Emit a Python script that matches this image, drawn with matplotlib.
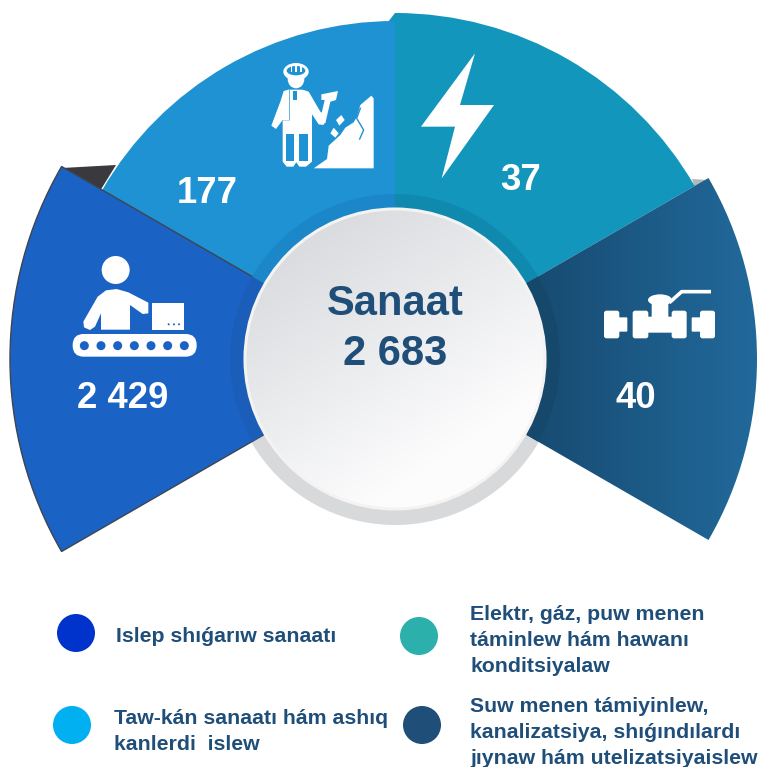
import numpy as np
import matplotlib
matplotlib.use("Agg")
import matplotlib.pyplot as plt
from matplotlib.patches import Wedge, Circle, Polygon, Ellipse, FancyBboxPatch, Rectangle
from matplotlib.colors import LinearSegmentedColormap

plt.rcParams['font.family'] = ['Liberation Sans', 'DejaVu Sans']

# ---- data
total_title = "Sanaat"
total_value = "2 683"
value_labels = ["2 429", "177", "37", "40"]
legend_labels = [
    "Islep shıǵarıw sanaatı",
    "Elektr, gáz, puw menen\ntáminlew hám hawanı\nkonditsiyalaw",
    "Taw-kán sanaatı hám ashıq\nkanlerdi  islew",
    "Suw menen támiyinlew,\nkanalizatsiya, shıǵındılardı\njıynaw hám utelizatsiyaislew",
]

W, H = 758, 767
fig = plt.figure(figsize=(W / 100, H / 100), dpi=100, facecolor="white")
ax = fig.add_axes([0, 0, 1, 1])
CX, CY = 395, 359
NAVY = "#1f4e79"
WHITE = "white"
BLUE_LEFT = "#1a63c4"
BLUE_TOP = "#1e92d2"


def sector(a1, a2, r, color, z, **kw):
    """Sector between screen angles a1..a2 (counter-clockwise, degrees)."""
    p = Wedge((CX, CY), r, -a2, -a1, facecolor=color, edgecolor=kw.pop("edgecolor", "none"),
              zorder=z, **kw)
    ax.add_patch(p)
    return p


def fill_gradient(patch, c1, c2, x0, y0, x1, y1, z):
    yy, xx = np.mgrid[0:H, 0:W]
    dx, dy = x1 - x0, y1 - y0
    t = np.clip(((xx - x0) * dx + (yy - y0) * dy) / (dx * dx + dy * dy), 0, 1)
    cmap = LinearSegmentedColormap.from_list("g", [c1, c2])
    im = ax.imshow(t, cmap=cmap, vmin=0, vmax=1, extent=(0, W, H, 0), zorder=z,
                   interpolation="bilinear", aspect="auto")
    im.set_clip_path(patch)


# ---- background shadow
ax.add_patch(Circle((CX, CY), 166, facecolor="#d7d9db", edgecolor="none", zorder=1))

# ---- folded corners
ax.add_patch(Polygon([(62, 168), (116, 165), (100, 191)], facecolor="#3a3a3e", edgecolor="none", zorder=1.5))
ax.add_patch(Polygon([(692, 179), (708, 180), (695, 189)], facecolor="#b5b8b8", edgecolor="none", zorder=1.5))
ax.add_patch(Polygon([(395, 13), (388, 22), (395, 22)], facecolor="#1296bb", edgecolor="none", zorder=1.5))

# ---- main sectors
sector(90, 150, 338, BLUE_TOP, 2)
sector(30, 90, 346, "#1296bb", 2)
right = sector(-30, 30, 362, "none", 2)
fill_gradient(right, "#174a70", "#21699b", 525, 0, 755, 0, 2)
sector(150, 210, 385, BLUE_LEFT, 3, edgecolor="#3e4450", linewidth=1.0)

# ---- inner darker ring
sector(150, 210, 165, "#1a5eba", 3.5)
sector(90, 150, 165, "#1b87c8", 3.5)
sector(30, 90, 165, "#1089ae", 3.5)
sector(-30, 30, 165, "#16486c", 3.5)

# ---- central disc
disc = Circle((CX, CY), 150, facecolor="none", edgecolor="none", zorder=4)
ax.add_patch(disc)
fill_gradient(disc, "#dadcdf", "#fcfcfd", 310, 240, 450, 450, 4)
ax.add_patch(Circle((CX, CY), 150, facecolor="none", edgecolor="#f4f3f2", linewidth=2.2, zorder=4.5))

ax.text(395, 315, total_title, ha="center", va="baseline", fontsize=30, fontweight="bold", color=NAVY, zorder=6)
ax.text(395, 365, total_value, ha="center", va="baseline", fontsize=30, fontweight="bold", color=NAVY, zorder=6)

# ---- values
value_xy = [(122.5, 408), (207, 203), (521, 190), (636, 408)]
for (x, y), s in zip(value_xy, value_labels):
    ax.text(x, y, s, ha="center", va="baseline", fontsize=26.3, fontweight="bold", color=WHITE, zorder=6)


# ---- icons
def poly(points, color=WHITE, z=5, **kw):
    ax.add_patch(Polygon(points, closed=True, facecolor=color, edgecolor="none", zorder=z, **kw))


def z3(points, ox=0, oy=0):
    return [(ox + x / 3, oy + y / 3) for x, y in points]


# factory worker
ox, oy = 0, 230
ax.add_patch(Circle((ox + 347 / 3, oy + 120 / 3), 14, facecolor=WHITE, zorder=5))
poly(z3([(303, 299), (390, 299), (390, 225), (428, 252), (445, 250), (445, 218), (385, 187), (350, 177), (318, 181),
         (293, 200), (250, 275), (252, 292), (270, 300), (285, 290), (303, 250)], ox, oy))
ax.add_patch(Rectangle((ox + 455 / 3, oy + 220 / 3), 98 / 3, 80 / 3, facecolor=WHITE, zorder=5))
for x in (506, 522, 537):
    ax.add_patch(Circle((ox + x / 3, oy + 283 / 3), 1.0, facecolor=BLUE_LEFT, zorder=5.5))
ax.add_patch(FancyBboxPatch((ox + 230 / 3, oy + 324 / 3), 348 / 3, 44 / 3,
                            boxstyle="round,pad=4,rounding_size=11", facecolor=WHITE, edgecolor="none", zorder=5))
for x in (253, 303, 353, 403, 453, 503, 553):
    ax.add_patch(Circle((ox + x / 3, oy + 347 / 3), 4.5, facecolor=BLUE_LEFT, zorder=5.5))

# miner
mx, my = 262, 55
def zm(points):
    return z3(points, mx, my)
def zc(x, y):
    return mx + x / 3, my + y / 3
ax.add_patch(Ellipse(zc(102, 72), 50 / 3, 56 / 3, facecolor=WHITE, zorder=5))
ax.add_patch(Ellipse(zc(102, 50), 76 / 3, 52 / 3, facecolor=WHITE, zorder=5.1))
ax.add_patch(Ellipse(zc(102, 47), 56 / 3, 28 / 3, facecolor=BLUE_TOP, zorder=5.2))
for x in (88, 102, 116):
    ax.add_patch(Rectangle(zc(x - 2.5, 33), 5 / 3, 18 / 3, facecolor=WHITE, zorder=5.3))
poly(zm([(65, 108), (82, 103), (82, 195), (62, 195), (42, 222), (28, 212), (55, 140)]))
poly(zm([(84, 104), (122, 104), (140, 110), (175, 170), (190, 180), (185, 210), (170, 208), (158, 190), (150, 178),
         (150, 320), (132, 335), (112, 335), (103, 322), (94, 335), (74, 335), (62, 320), (62, 196), (84, 196)]))
poly(zm([(94, 108), (106, 108), (106, 135), (94, 135)]), color=BLUE_TOP, z=5.2)
poly(zm([(73, 238), (95, 238), (95, 318), (73, 318)]), color=BLUE_TOP, z=5.2)
poly(zm([(110, 238), (138, 238), (138, 318), (110, 318)]), color=BLUE_TOP, z=5.2)
poly(zm([(178, 118), (228, 108), (222, 135), (205, 140), (190, 205), (172, 205), (188, 135), (178, 135)]))
poly(zm([(238, 180), (248, 195), (232, 212), (222, 195)]))
poly(zm([(215, 218), (230, 235), (220, 248), (205, 235)]))
poly(zm([(155, 340), (195, 312), (200, 272), (235, 240), (250, 218), (275, 202), (285, 185), (295, 150),
         (328, 122), (335, 130), (335, 340)]))
crack = zm([(295, 160), (284, 190), (305, 225), (293, 252)])
ax.plot([p[0] for p in crack], [p[1] for p in crack], color=BLUE_TOP, lw=1.0, zorder=5.2)

# lightning bolt
poly(z3([(285, 160), (240, 315), (342, 315), (185, 535), (225, 380), (123, 380)], 380, 0))

# valve
ox, oy = 580, 270
def rrect(x0, y0, x1, y1, color=WHITE, r=2.5, z=5):
    ax.add_patch(FancyBboxPatch((ox + x0 / 3 + r, oy + y0 / 3 + r), (x1 - x0) / 3 - 2 * r, (y1 - y0) / 3 - 2 * r,
                                boxstyle=f"round,pad={r},rounding_size={r}", facecolor=color, edgecolor="none", zorder=z))
rrect(72, 122, 118, 205)
rrect(112, 142, 142, 185, r=1)
rrect(158, 122, 205, 205)
rrect(275, 122, 320, 205)
rrect(190, 140, 290, 188, r=1)
rrect(335, 142, 365, 185, r=1)
rrect(360, 122, 405, 205)
rrect(215, 95, 265, 145, r=1)
ax.add_patch(Ellipse((ox + 240 / 3, oy + 90 / 3), 72 / 3, 34 / 3, facecolor=WHITE, zorder=5))
ax.plot([ox + 268 / 3, ox + 305 / 3, ox + 393 / 3], [oy + 98 / 3, oy + 65 / 3, oy + 65 / 3], color=WHITE, lw=2.6,
        solid_capstyle="butt", zorder=5)

# ---- legend
legend_colors = ["#0033cc", "#2bb0ac", "#00b0f0", "#1f4e79"]
marker_xy = [(76, 633), (419, 636), (72, 725), (422, 725)]
text_xy = [(116, [636]), (470, [615, 640, 666]), (114, [719, 744]), (470, [707, 732, 758])]
for c, (lx, ly) in zip(legend_colors, marker_xy):
    ax.add_patch(Circle((lx, ly), 19, facecolor=c, edgecolor="none", zorder=2))
for label, (tx, ys) in zip(legend_labels, text_xy):
    for line, y in zip(label.split("\n"), ys):
        ax.text(tx, y, line, ha="left", va="center", fontsize=15.3, fontweight="bold", color=NAVY, zorder=6)

ax.set_xlim(0, W)
ax.set_ylim(H, 0)
ax.set_aspect("auto")
ax.axis("off")
fig.savefig("out.png", dpi=100, facecolor="white")
